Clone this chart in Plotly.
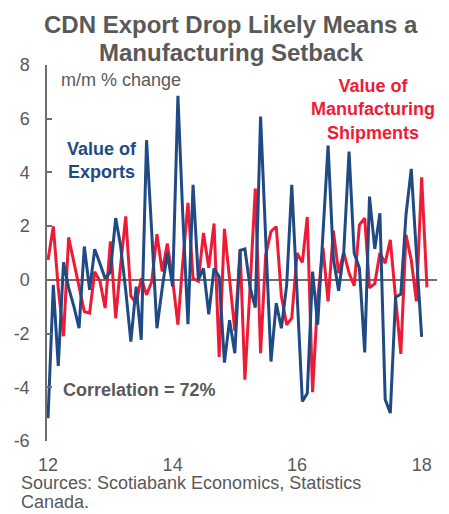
import plotly.graph_objects as go
import pandas as pd

# Monthly % change, Jan 2012 onward
exports = [-5.15, -0.19, -3.2, 0.65, -0.3, -1.0, -1.8, 1.24, -0.37, 1.14, 0.6, 0.05,
           0.3, 2.3, 1.3, -0.4, -2.3, -0.25, -2.23, 5.2, 1.7, -1.8, -0.3, 1.0,
           -0.25, 6.85, 2.5, -1.65, 3.54, 0.0, 0.43, -1.28, 0.43, 0.12, -3.08, -1.5,
           -2.73, 1.1, 1.15, -0.3, -1.03, 6.08, 1.55, -3.04, -0.87, -1.8, -0.2, 3.54,
           -0.5, -4.53, -4.22, 0.31, -1.67, 1.67, 5.0, 0.8, -0.41, 1.05, 4.78, 1.0,
           0.43, -2.7, 3.1, 1.15, 2.48, -4.45, -4.96, -0.65, -0.53, 2.42, 4.13, 1.0,
           -2.12]
shipments = [0.74, 1.99, -0.3, -2.1, 1.58, 0.68, -0.19, -1.18, -1.24, 0.3, -0.06, -1.05,
             1.43, -1.43, 0.5, 2.36, -0.6, -0.87, 0.06, -0.56, -0.06, 1.7, 0.31, 1.35,
             0.0, -1.67, 0.6, 2.87, 0.05, -0.05, 1.75, 0.45, 2.1, -2.87, 1.9, -0.06,
             -1.9, 1.12, -3.72, -0.2, 3.4, -2.73, 0.93, 1.8, 1.98, -0.6, -1.67, -1.43,
             1.0, 0.65, 2.34, -4.18, -0.7, 1.2, -0.8, 1.83, 0.25, 1.02, 0.25, -0.22,
             2.05, 2.3, -0.3, -0.14, 1.0, 0.62, 1.49, -0.68, -2.76, 1.68, 0.74, -0.8,
             3.82, -0.28]

dates_exp = pd.date_range("2012-01-01", periods=len(exports), freq="MS")
dates_shp = pd.date_range("2012-01-01", periods=len(shipments), freq="MS")

xtick_vals = ["2012-01-01", "2014-01-01", "2016-01-01", "2018-01-01"]
xtick_text = ["12", "14", "16", "18"]
ytick_vals = [-6, -4, -2, 0, 2, 4, 6, 8]
ytick_text = ["-6", "-4", "-2", "0", "2", "4", "6", "8"]

BLUE = "#1F4A84"
RED = "#EE1B36"
GRAY = "#595959"
FONT = "Liberation Sans, Arial, sans-serif"

W, H = 449, 514
L, R, T, B = 47, 437, 65, 441


def px(x):
    return (x - L) / (R - L)


def py(y):
    return (B - y) / (B - T)


fig = go.Figure()
fig.add_trace(go.Scatter(x=dates_shp, y=shipments, mode="lines",
                         line=dict(color=RED, width=3), name="Value of Manufacturing Shipments"))
fig.add_trace(go.Scatter(x=dates_exp, y=exports, mode="lines",
                         line=dict(color=BLUE, width=3), name="Value of Exports"))

fig.update_layout(
    width=W, height=H,
    margin=dict(l=L, r=W - R, t=T, b=H - B, pad=0),
    paper_bgcolor="white", plot_bgcolor="white",
    showlegend=False,
    font=dict(family=FONT, color=GRAY, size=18),
    xaxis=dict(type="date", range=["2011-12-26", "2018-04-01"],
               tickvals=xtick_vals, ticktext=xtick_text,
               showgrid=False, zeroline=False, showline=False,
               ticks="outside", ticklen=7, tickcolor="rgba(0,0,0,0)",
               tickfont=dict(size=18, color=GRAY)),
    yaxis=dict(range=[-6, 8], tickvals=ytick_vals, ticktext=ytick_text,
               showgrid=False, zeroline=True, zerolinecolor="#6E6E6E", zerolinewidth=1.5,
               showline=True, linecolor="#6E6E6E", linewidth=1.5,
               ticks="inside", ticklen=5, tickwidth=1.5, tickcolor="#6E6E6E",
               ticklabelstandoff=12,
               tickfont=dict(size=18, color=GRAY)),
)

annos = [
    dict(text="<b>CDN Export Drop Likely Means a</b>", x=px(231), y=py(24), xanchor="center",
         yanchor="middle", font=dict(size=24, color=GRAY)),
    dict(text="<b>Manufacturing Setback</b>", x=px(231), y=py(52), xanchor="center",
         yanchor="middle", font=dict(size=24, color=GRAY)),
    dict(text="m/m % change", x=px(60), y=py(80), xanchor="left", yanchor="middle",
         font=dict(size=18, color=GRAY)),
    dict(text="<b>Value of<br>Exports</b>", x=px(102), y=py(160), xanchor="center", yanchor="middle",
         font=dict(size=18, color=BLUE)),
    dict(text="<b>Value of<br>Manufacturing<br>Shipments</b>", x=px(373), y=py(109),
         xanchor="center", yanchor="middle", font=dict(size=18, color=RED)),
    dict(text="<b>Correlation = 72%</b>", x=px(62), y=py(390), xanchor="left", yanchor="middle",
         font=dict(size=18, color=GRAY)),
    dict(text="Sources: Scotiabank Economics, Statistics", x=px(20), y=py(483),
         xanchor="left", yanchor="middle", align="left", font=dict(size=18, color=GRAY)),
    dict(text="Canada.", x=px(20), y=py(502),
         xanchor="left", yanchor="middle", align="left", font=dict(size=18, color=GRAY)),
]
for a in annos:
    fig.add_annotation(xref="paper", yref="paper", showarrow=False, borderpad=0, **a)

fig.write_html("out.html", config={"displayModeBar": False},
               post_script="document.body.style.margin='0';")
